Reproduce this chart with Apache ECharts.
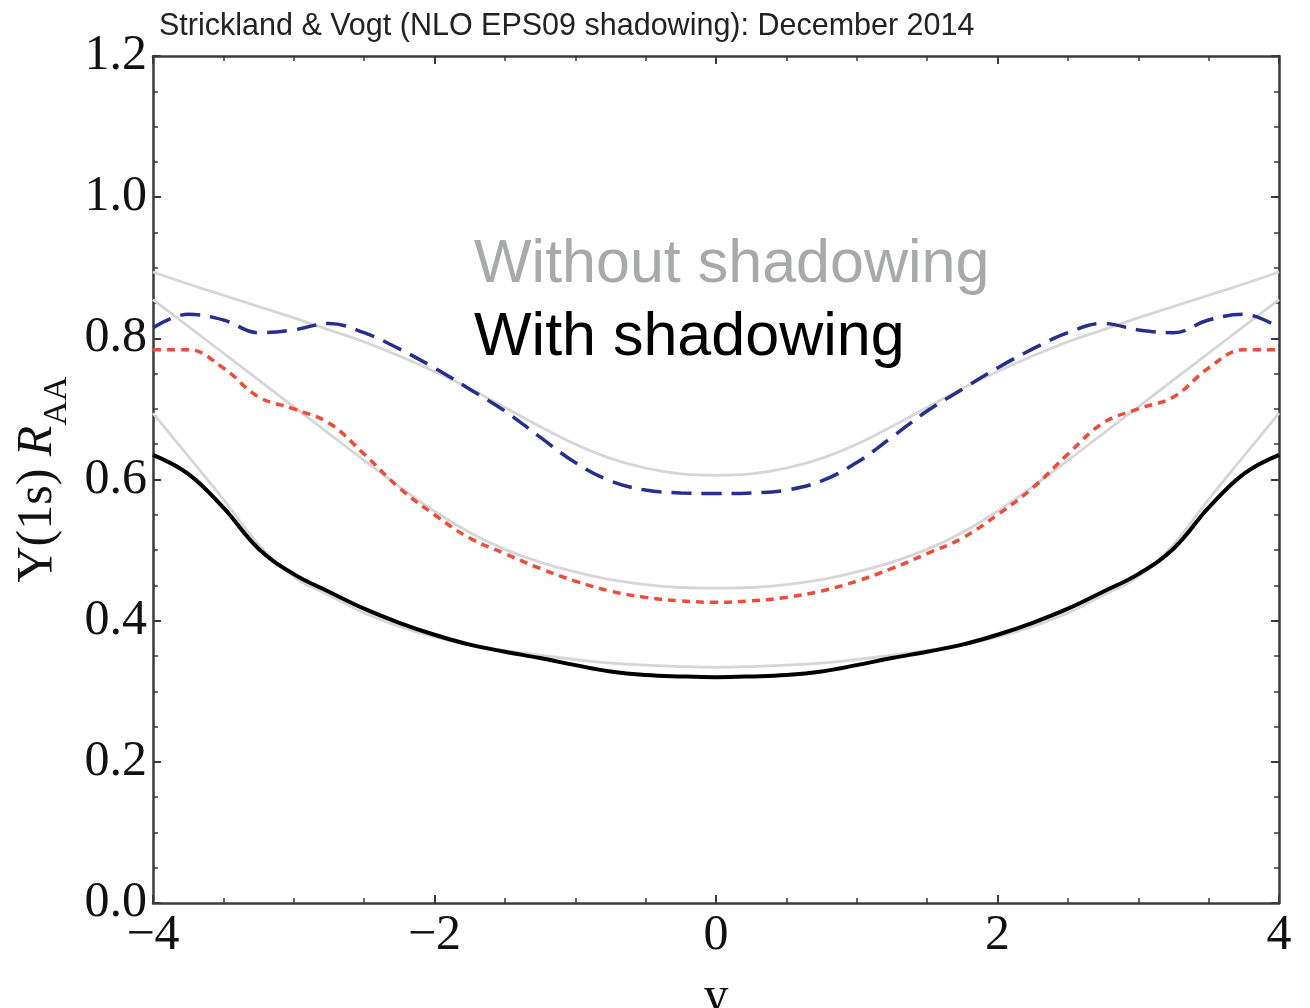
<!DOCTYPE html>
<html>
<head>
<meta charset="utf-8">
<title>Upsilon(1s) R_AA vs rapidity</title>
<script src="https://cdn.jsdelivr.net/npm/echarts@6/dist/echarts.min.js"></script>
<style>
  html, body { margin: 0; padding: 0; background: #ffffff; }
  #chart { width: 1310px; height: 1008px; }
</style>
</head>
<body>
<div id="chart"></div>
<script>
// Rapidity grid
const rapidity = [-4, -3.75, -3.5, -3.25, -3, -2.75, -2.5, -2.25, -2, -1.75, -1.5, -1.25, -1, -0.75, -0.5, -0.25, 0,
                  0.25, 0.5, 0.75, 1, 1.25, 1.5, 1.75, 2, 2.25, 2.5, 2.75, 3, 3.25, 3.5, 3.75, 4];

// With shadowing (coloured curves)
const blueWith = [0.815, 0.834, 0.826, 0.808, 0.812, 0.821, 0.808, 0.785, 0.758, 0.728, 0.697, 0.660, 0.624, 0.598, 0.585, 0.581, 0.580,
                  0.581, 0.585, 0.598, 0.624, 0.660, 0.697, 0.728, 0.758, 0.785, 0.808, 0.821, 0.812, 0.808, 0.826, 0.834, 0.815];
const redWith = [0.784, 0.784, 0.758, 0.717, 0.700, 0.680, 0.636, 0.588, 0.550, 0.517, 0.495, 0.474, 0.456, 0.442, 0.433, 0.428, 0.426,
                 0.428, 0.433, 0.442, 0.456, 0.474, 0.495, 0.517, 0.550, 0.588, 0.636, 0.680, 0.700, 0.717, 0.758, 0.784, 0.784];
const blackWith = [0.635, 0.608, 0.560, 0.502, 0.466, 0.441, 0.417, 0.397, 0.380, 0.366, 0.356, 0.347, 0.337, 0.328, 0.323, 0.321, 0.320,
                   0.321, 0.323, 0.328, 0.337, 0.347, 0.356, 0.366, 0.380, 0.397, 0.417, 0.441, 0.466, 0.502, 0.560, 0.608, 0.635];

// Without shadowing (grey curves)
const greyUpper = [0.894, 0.877, 0.861, 0.845, 0.829, 0.812, 0.795, 0.775, 0.753, 0.729, 0.702, 0.675, 0.650, 0.630, 0.616, 0.608, 0.606,
                   0.608, 0.616, 0.630, 0.650, 0.675, 0.702, 0.729, 0.753, 0.775, 0.795, 0.812, 0.829, 0.845, 0.861, 0.877, 0.894];
const greyMiddle = [0.855, 0.817, 0.779, 0.741, 0.703, 0.665, 0.627, 0.590, 0.555, 0.525, 0.501, 0.483, 0.469, 0.458, 0.451, 0.447, 0.446,
                    0.447, 0.451, 0.458, 0.469, 0.483, 0.501, 0.525, 0.555, 0.590, 0.627, 0.665, 0.703, 0.741, 0.779, 0.817, 0.855];
const greyLower = [0.694, 0.633, 0.572, 0.508, 0.462, 0.436, 0.411, 0.392, 0.377, 0.366, 0.358, 0.351, 0.345, 0.340, 0.337, 0.335, 0.334,
                   0.335, 0.337, 0.340, 0.345, 0.351, 0.358, 0.366, 0.377, 0.392, 0.411, 0.436, 0.462, 0.508, 0.572, 0.633, 0.694];

const xTickLabels = { '-4': '\u22124', '-2': '\u22122', '0': '0', '2': '2', '4': '4' };
const yTickLabels = ['0.0', '0.2', '0.4', '0.6', '0.8', '1.0', '1.2'];

const titleText = 'Strickland & Vogt (NLO EPS09 shadowing): December 2014';
const legendWithout = 'Without shadowing';
const legendWith = 'With shadowing';

function pair(ys) { return rapidity.map((x, i) => [x, ys[i]]); }

const serif = '"Liberation Serif", "DejaVu Serif", serif';
const sans = '"Liberation Sans", Arial, sans-serif';
const axisColor = '#3a3a3a';

function xAxisDef(pos, withLabels) {
  return {
    type: 'value', position: pos, min: -4, max: 4, interval: 2,
    axisLine: { show: true, onZero: false, lineStyle: { color: axisColor, width: 2.5 } },
    axisTick: { show: true, inside: true, length: 8, lineStyle: { color: axisColor, width: 2 } },
    minorTick: { show: true, splitNumber: 4, length: 5, lineStyle: { color: axisColor, width: 1.5 } },
    splitLine: { show: false },
    axisLabel: {
      show: withLabels, margin: 8, color: '#111', fontFamily: serif, fontSize: 50,
      formatter: v => xTickLabels[String(v)] || ''
    },
    name: withLabels ? 'y' : '', nameLocation: 'middle', nameGap: 70,
    nameTextStyle: { fontFamily: serif, fontSize: 50, color: '#111' }
  };
}

function yAxisDef(pos, withLabels) {
  return {
    type: 'value', position: pos, min: 0, max: 1.2, interval: 0.2,
    axisLine: { show: true, onZero: false, lineStyle: { color: axisColor, width: 2.5 } },
    axisTick: { show: true, inside: true, length: 8, lineStyle: { color: axisColor, width: 2 } },
    minorTick: { show: true, splitNumber: 4, length: 5, lineStyle: { color: axisColor, width: 1.5 } },
    splitLine: { show: false },
    axisLabel: {
      show: withLabels, margin: 6, color: '#111', fontFamily: serif, fontSize: 50,
      formatter: v => yTickLabels[Math.round(v / 0.2)]
    },
    name: withLabels ? '{n|\u03A5(1s) }{r|R}{s|AA}' : '', nameLocation: 'middle', nameGap: 85,
    nameTextStyle: {
      rich: {
        n: { fontFamily: serif, fontSize: 50, color: '#111', lineHeight: 56, verticalAlign: 'middle' },
        r: { fontFamily: serif, fontSize: 50, fontStyle: 'italic', color: '#111', lineHeight: 56, verticalAlign: 'middle' },
        s: { fontFamily: serif, fontSize: 34, color: '#111', lineHeight: 56, verticalAlign: 'bottom', padding: [0, 0, -8, 0] }
      }
    }
  };
}

function greySeries(data) {
  return {
    type: 'line', data: pair(data), showSymbol: false, smooth: 0.4, z: 1,
    lineStyle: { color: '#d6d6d6', width: 2.8 }, silent: true
  };
}

const chart = echarts.init(document.getElementById('chart'), null, { renderer: 'canvas' });
chart.setOption({
  backgroundColor: '#ffffff',
  animation: false,
  grid: { left: 153, right: 31, top: 56, bottom: 105, containLabel: false, outerBoundsMode: 'none' },
  xAxis: [xAxisDef('bottom', true), xAxisDef('top', false)],
  yAxis: [yAxisDef('left', true), yAxisDef('right', false)],
  series: [
    greySeries(greyUpper),
    greySeries(greyMiddle),
    greySeries(greyLower),
    {
      type: 'line', data: pair(blueWith), showSymbol: false, smooth: 0.4, z: 3,
      lineStyle: { color: '#262f8f', width: 3.5, type: [20, 10] }
    },
    {
      type: 'line', data: pair(redWith), showSymbol: false, smooth: 0.4, z: 3,
      lineStyle: { color: '#f04a38', width: 3.5, type: [8, 6] }
    },
    {
      type: 'line', data: pair(blackWith), showSymbol: false, smooth: 0.4, z: 3,
      lineStyle: { color: '#000000', width: 4 }
    }
  ],
  graphic: [
    {
      type: 'text', left: 159, top: 11,
      style: { text: titleText, fontFamily: sans, fontSize: 30.5, fill: '#222' }
    },
    {
      type: 'text', left: 474, top: 235,
      style: { text: legendWithout, fontFamily: sans, fontSize: 61, fill: '#a8aaaa' }
    },
    {
      type: 'text', left: 474, top: 308,
      style: { text: legendWith, fontFamily: sans, fontSize: 61, fill: '#000000' }
    }
  ]
});
</script>
</body>
</html>
